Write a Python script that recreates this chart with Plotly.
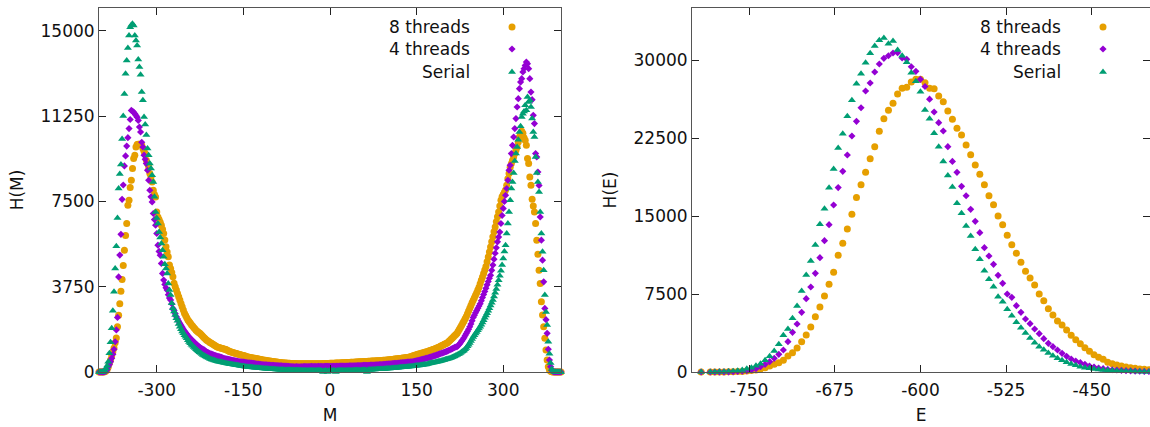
import plotly.graph_objects as go

# ---------------- data: left panel, histogram of magnetisation M ----------------
M_vals = list(range(-400, 401, 2))

hm_8threads = [
    0, 0, 0, 1, 5, 15, 40, 100, 220, 380,
    527, 700, 893, 1050, 1289, 1500, 1991, 2500, 3000, 3550,
    4069, 4684, 5356, 6000, 6528, 7331, 7551, 8108, 8429, 8942,
    9381, 9526, 9891, 9996, 10009, 10010, 9990, 9965, 9820, 9700,
    9600, 9307, 9160, 9013, 8723, 8574, 8354, 7990, 7800, 7696,
    7037, 6818, 6700, 6580, 6453, 6270, 6089, 5800, 5501, 5280,
    5062, 4700, 4552, 4370, 4184, 3900, 3745, 3600, 3455, 3310,
    3160, 3016, 2870, 2720, 2577, 2480, 2380, 2283, 2220, 2150,
    2080, 2020, 1960, 1900, 1840, 1790, 1745, 1710, 1670, 1620,
    1560, 1510, 1460, 1405, 1370, 1340, 1300, 1270, 1240, 1210,
    1180, 1140, 1111, 1090, 1075, 1060, 1045, 1030, 1015, 1000,
    985, 960, 930, 900, 885, 870, 855, 840, 825, 810,
    795, 780, 765, 752, 740, 728, 712, 690, 672, 660,
    650, 640, 630, 620, 610, 598, 588, 578, 568, 556,
    545, 535, 527, 519, 511, 503, 495, 487, 479, 471,
    464, 457, 450, 443, 436, 428, 420, 414, 410, 405,
    400, 396, 392, 388, 384, 380, 378, 376, 374, 372,
    370, 368, 367, 366, 365, 364, 363, 362, 362, 361,
    361, 360, 360, 360, 361, 361, 362, 362, 363, 364,
    365, 366, 367, 368, 369, 370, 371, 372, 374, 375,
    380, 382, 384, 386, 389, 391, 394, 396, 399, 401,
    404, 406, 409, 411, 414, 417, 419, 422, 425, 428,
    431, 434, 437, 440, 443, 446, 449, 452, 455, 458,
    461, 464, 467, 470, 473, 476, 479, 482, 485, 488,
    491, 494, 497, 500, 504, 508, 512, 516, 520, 525,
    530, 536, 542, 548, 554, 560, 566, 572, 578, 584,
    590, 597, 604, 611, 618, 625, 633, 641, 649, 658,
    667, 692, 717, 730, 745, 760, 775, 790, 805, 820,
    835, 850, 865, 880, 895, 915, 930, 945, 965, 985,
    1005, 1025, 1045, 1065, 1090, 1115, 1140, 1165, 1190, 1215,
    1240, 1260, 1300, 1350, 1400, 1450, 1500, 1550, 1600, 1650,
    1700, 1790, 1880, 1970, 2060, 2150, 2240, 2340, 2440, 2560,
    2680, 2800, 2920, 3040, 3150, 3260, 3370, 3480, 3600, 3730,
    3880, 4030, 4180, 4330, 4480, 4640, 4850, 5060, 5280, 5500,
    5720, 5940, 6160, 6379, 6600, 6820, 7037, 7300, 7551, 7700,
    7800, 7900, 8000, 8209, 8500, 8723, 9000, 9162, 9300, 9450,
    9600, 9750, 9891, 10110, 10330, 10476, 10580, 10500, 10300, 10185,
    9965, 9381, 9162, 8574, 8209, 7595, 7300, 7037, 6528, 5795,
    5180, 4478, 3894, 3086, 2502, 1989, 1479, 966, 527, 234,
    88, 30, 13, 4, 1, 0, 0, 0, 0, 0,
    0,
]

hm_4threads = [
    0, 0, 1, 3, 8, 15, 40, 100, 230, 330,
    450, 600, 780, 1000, 1330, 1850, 2400, 4180, 5140, 6050,
    7590, 8220, 9060, 9500, 9930, 10300, 10700, 11100, 11500, 11460,
    11420, 11355, 11280, 11200, 11060, 10770, 10550, 10100, 9890, 9530,
    9350, 9160, 8870, 8430, 7990, 7700, 7476, 6966, 6700, 6453,
    6089, 5575, 5300, 5136, 4772, 4333, 4039, 3850, 3700, 3600,
    3400, 3250, 3161, 3000, 2796, 2700, 2560, 2428, 2330, 2230,
    2138, 2050, 1970, 1880, 1800, 1740, 1670, 1600, 1540, 1479,
    1430, 1380, 1330, 1280, 1230, 1185, 1140, 1100, 1065, 1030,
    1000, 970, 930, 891, 865, 840, 815, 795, 775, 755,
    735, 720, 705, 690, 675, 660, 640, 620, 601, 590,
    580, 568, 557, 546, 535, 525, 515, 505, 495, 484,
    472, 462, 453, 446, 440, 433, 426, 419, 412, 406,
    400, 394, 388, 382, 377, 372, 362, 350, 345, 340,
    335, 330, 325, 320, 316, 312, 308, 304, 300, 296,
    292, 289, 286, 283, 280, 277, 274, 271, 268, 265,
    262, 259, 256, 252, 248, 243, 238, 236, 234, 232,
    230, 234, 226, 232, 228, 236, 230, 238, 233, 240,
    236, 242, 238, 240, 244, 239, 241, 245, 240, 243,
    246, 241, 244, 247, 242, 246, 248, 244, 249, 246,
    250, 247, 252, 249, 254, 251, 256, 253, 257, 255,
    258, 260, 259, 262, 261, 264, 265, 266, 268, 269,
    270, 272, 274, 276, 278, 280, 282, 284, 286, 288,
    290, 292, 294, 296, 298, 300, 303, 306, 309, 312,
    315, 318, 320, 322, 326, 330, 334, 338, 342, 346,
    350, 354, 358, 362, 366, 371, 376, 381, 386, 391,
    396, 401, 406, 411, 416, 421, 426, 431, 436, 441,
    446, 450, 453, 465, 478, 491, 504, 517, 530, 543,
    556, 569, 582, 596, 610, 625, 640, 655, 672, 689,
    706, 723, 740, 758, 776, 794, 812, 830, 850, 870,
    890, 905, 930, 955, 980, 1005, 1030, 1055, 1080, 1100,
    1113, 1160, 1220, 1290, 1360, 1430, 1510, 1600, 1690, 1780,
    1880, 1990, 2110, 2250, 2400, 2500, 2600, 2700, 2800, 2900,
    3000, 3130, 3270, 3410, 3540, 3680, 3830, 3980, 4120, 4250,
    4470, 4700, 4960, 5220, 5460, 5720, 5930, 6150, 6528, 6880,
    7190, 7500, 7770, 8064, 8429, 8868, 9087, 9600, 9965, 10330,
    10700, 11138, 11647, 12015, 12454, 12744, 12893, 13186, 13333, 13477,
    13622, 13550, 13333, 12893, 12305, 11972, 11282, 10918, 9600, 9451,
    8793, 8200, 6818, 5795, 4917, 3964, 2796, 2300, 1700, 1000,
    527, 234, 80, 25, 8, 2, 0, 0, 0, 0,
    0,
]

hm_serial = [
    0, 0, 0, 5, 13, 60, 150, 280, 452, 820,
    1303, 1918, 2691, 3525, 4552, 5531, 6774, 8064, 8700, 9118,
    10242, 11252, 12218, 13113, 13697, 14237, 14794, 15159, 15250, 15307,
    15233, 14794, 14575, 14355, 13740, 13403, 13069, 12305, 11941, 11208,
    10874, 10418, 9820, 9526, 9162, 8942, 8648, 8354, 7700, 7037,
    6774, 6528, 6159, 5913, 5650, 5356, 5062, 4741, 4550, 4333,
    3894, 3600, 3380, 3020, 2800, 2660, 2510, 2360, 2250, 2110,
    1990, 1880, 1780, 1700, 1620, 1550, 1480, 1400, 1320, 1260,
    1200, 1150, 1100, 1050, 1000, 960, 915, 870, 830, 790,
    750, 720, 690, 660, 635, 610, 585, 560, 540, 525,
    505, 490, 475, 460, 448, 436, 425, 415, 405, 395,
    385, 375, 365, 355, 345, 336, 327, 318, 310, 302,
    294, 286, 270, 262, 255, 248, 242, 236, 230, 224,
    218, 212, 207, 202, 197, 192, 188, 184, 178, 172,
    166, 160, 155, 150, 146, 142, 138, 134, 130, 127,
    124, 120, 116, 112, 108, 105, 102, 100, 98, 96,
    94, 92, 90, 88, 87, 86, 85, 84, 83, 82,
    80, 78, 76, 75, 74, 72, 70, 70, 69, 68,
    67, 66, 66, 65, 64, 64, 63, 63, 62, 62,
    62, 61, 61, 60, 5, 60, 60, 60, 2, 60,
    60, 60, 60, 61, 61, 4, 61, 62, 62, 63,
    63, 64, 65, 65, 66, 67, 68, 69, 70, 71,
    72, 73, 74, 75, 77, 78, 80, 82, 84, 86,
    88, 90, 3, 94, 97, 100, 103, 106, 110, 113,
    116, 119, 122, 125, 128, 131, 134, 137, 141, 145,
    149, 153, 157, 161, 165, 170, 175, 180, 185, 190,
    195, 200, 205, 210, 215, 220, 225, 230, 235, 240,
    245, 250, 255, 263, 270, 277, 284, 291, 298, 304,
    310, 318, 326, 335, 345, 360, 372, 385, 398, 410,
    420, 430, 440, 452, 462, 472, 487, 502, 517, 530,
    545, 560, 575, 592, 608, 625, 645, 668, 695, 720,
    746, 775, 805, 840, 875, 910, 950, 1000, 1060, 1130,
    1200, 1280, 1360, 1450, 1540, 1620, 1690, 1760, 1840, 1910,
    1990, 2080, 2180, 2280, 2380, 2480, 2577, 2690, 2800, 2920,
    3040, 3160, 3320, 3480, 3650, 3830, 4030, 4230, 4450, 4700,
    4990, 5300, 5575, 6089, 6528, 7037, 7551, 8064, 8354, 8749,
    9276, 9600, 9891, 10213, 10549, 10799, 11208, 11355, 11450, 11721,
    11501, 12085, 11866, 11950, 11647, 11138, 10549, 10330, 9450, 8749,
    8354, 7915, 7037, 6089, 5281, 4478, 3380, 2640, 2063, 1330,
    800, 400, 130, 40, 12, 4, 1, 0, 0, 0,
    0,
]

# ---------------- data: right panel, histogram of energy E ----------------
E_vals = [-792] + list(range(-784, -399, 4))

he_8threads = [
    1, 2, 3, 5, 10, 15, 25, 40, 60, 95,
    140, 200, 288, 413, 577, 740, 894, 1125, 1538, 1856,
    2308, 2913, 3558, 4327, 5317, 6250, 7307, 8433, 9586, 11221,
    12375, 13750, 15163, 16780, 18000, 19200, 20509, 21663, 23143, 24355,
    25163, 25835, 26730, 27278, 27374, 27884, 28143, 28143, 27816, 27278,
    27240, 26537, 25990, 25095, 24297, 23432, 22788, 21826, 20880, 19915,
    19020, 17995, 16951, 16086, 15000, 14163, 13144, 12240, 11413, 10548,
    9682, 9038, 8365, 7500, 6855, 6086, 5481, 4904, 4519, 4038,
    3529, 3106, 2721, 2336, 1990, 1663, 1413, 1221, 933, 798,
    673, 577, 481, 413, 356, 288, 260, 220,
]

he_4threads = [
    1, 2, 3, 6, 10, 17, 28, 45, 75, 120,
    192, 317, 510, 740, 990, 1317, 1702, 2115, 2913, 3817,
    4615, 5740, 7048, 8173, 9490, 10990, 12625, 14163, 16057, 17735,
    19297, 20865, 22691, 24105, 25412, 27018, 27787, 28845, 29614, 30162,
    30412, 30672, 30701, 30191, 30066, 29355, 28912, 28143, 27450, 26235,
    25000, 23971, 23172, 21663, 20250, 19201, 17850, 16951, 15644, 14490,
    13394, 11952, 11153, 10355, 9298, 8529, 7500, 7182, 6375, 5740,
    5096, 4644, 4134, 3683, 3202, 2759, 2433, 2115, 1798, 1510,
    1250, 1058, 894, 740, 577, 481, 385, 317, 250, 220,
    190, 160, 130, 110, 90, 70, 60, 50,
]

he_serial = [
    1, 5, 9, 16, 28, 45, 75, 120, 192, 317,
    417, 606, 801, 1122, 1506, 2019, 2660, 3526, 4134, 5160,
    6346, 7788, 9327, 10673, 12211, 14201, 15702, 17721, 19518, 21538,
    22913, 24585, 26124, 27720, 28682, 29739, 30643, 31345, 31893, 32114,
    31567, 31826, 30960, 30412, 29778, 28778, 27951, 26951, 25191, 24340,
    22951, 21663, 20250, 18900, 17790, 16220, 15259, 14038, 13076, 11798,
    10836, 9740, 8913, 8202, 7240, 6759, 6029, 5413, 4779, 4259,
    3750, 3269, 2817, 2433, 2144, 1827, 1567, 1317, 1125, 933,
    769, 644, 510, 420, 350, 290, 240, 200, 170, 140,
    115, 95, 80, 65, 55, 45, 35, 30,
]

series_names = ["8 threads", "4 threads", "Serial"]
series_colors = ["#E69F00", "#9400D3", "#009E73"]

m_ticks = [-300, -150, 0, 150, 300]
hm_ticks = [0, 3750, 7500, 11250, 15000]
e_ticks = [-750, -675, -600, -525, -450]
he_ticks = [0, 7500, 15000, 22500, 30000]

for lst in (hm_8threads, hm_4threads, hm_serial):
    assert len(lst) == len(M_vals), len(lst)
for lst in (he_8threads, he_4threads, he_serial):
    assert len(lst) == len(E_vals), len(lst)

# ---------------- figure ----------------
W, H = 1150, 427
FONT = "DejaVu Sans"
FS = 17
symbols = ["circle", "diamond", "triangle-up"]
sizes = [7, 5.5, 7]

fig = go.Figure()

left_data = [hm_8threads, hm_4threads, hm_serial]
right_data = [he_8threads, he_4threads, he_serial]
for i in range(3):
    fig.add_trace(go.Scatter(
        x=M_vals, y=left_data[i], mode="markers", name=series_names[i],
        marker=dict(symbol=symbols[i], size=sizes[i], color=series_colors[i], line=dict(width=0)),
        cliponaxis=False, showlegend=False, xaxis="x", yaxis="y"))
for i in range(3):
    fig.add_trace(go.Scatter(
        x=E_vals, y=right_data[i], mode="markers", name=series_names[i],
        marker=dict(symbol=symbols[i], size=sizes[i], color=series_colors[i], line=dict(width=0)),
        cliponaxis=False, showlegend=False, xaxis="x2", yaxis="y2"))

def px(xp):
    return xp / W

def py(yp):
    return 1 - yp / H

ydom = [py(372), py(8)]
axis_common = dict(
    showline=True, linecolor="#555555", linewidth=1, mirror="ticks",
    ticks="inside", ticklen=7, tickwidth=1, tickcolor="#222222",
    showgrid=False, zeroline=False, automargin=False,
    tickfont=dict(family=FONT, size=FS, color="#111111"),
)

fig.update_layout(
    width=W, height=H,
    margin=dict(l=0, r=0, t=0, b=0, autoexpand=False),
    paper_bgcolor="white", plot_bgcolor="white",
    font=dict(family=FONT, size=FS, color="#111111"),
    xaxis=dict(domain=[px(99), px(561)], range=[-400, 400],
               tickvals=m_ticks, ticktext=[str(v) for v in m_ticks],
               ticklabelstandoff=3,
               title=dict(text="M", font=dict(family=FONT, size=FS), standoff=9),
               anchor="y", **axis_common),
    yaxis=dict(domain=ydom, range=[0, 16000],
               tickvals=hm_ticks, ticktext=[str(v) for v in hm_ticks],
               title=dict(text="H(M)", font=dict(family=FONT, size=FS), standoff=12),
               anchor="x", **axis_common),
    xaxis2=dict(domain=[px(692), 1.0], range=[-800, -399],
                tickvals=e_ticks, ticktext=[str(v) for v in e_ticks],
                ticklabelstandoff=3,
                title=dict(text="E", font=dict(family=FONT, size=FS), standoff=9),
                anchor="y2", **axis_common),
    yaxis2=dict(domain=ydom, range=[0, 35000],
                tickvals=he_ticks, ticktext=[str(v) for v in he_ticks],
                title=dict(text="H(E)", font=dict(family=FONT, size=FS), standoff=12),
                anchor="x2", **axis_common),
)

# key (gnuplot style: right-aligned text, sample to its right)
key_rows_y = [27, 49, 72]
for text_right, sample_x in ((472, 512), (1063, 1103)):
    for i in range(3):
        fig.add_annotation(
            x=px(text_right), y=py(key_rows_y[i]), xref="paper", yref="paper",
            text=series_names[i], showarrow=False, xanchor="right", yanchor="middle",
            font=dict(family=FONT, size=FS, color="#111111"))
    ax, ay = px(sample_x), py(key_rows_y[0])
    fig.add_shape(type="circle", xref="paper", yref="paper", xsizemode="pixel", ysizemode="pixel",
                  xanchor=ax, yanchor=ay, x0=-3.5, x1=3.5, y0=-3.5, y1=3.5,
                  fillcolor=series_colors[0], line=dict(width=0))
    ax, ay = px(sample_x), py(key_rows_y[1])
    fig.add_shape(type="path", xref="paper", yref="paper", xsizemode="pixel", ysizemode="pixel",
                  xanchor=ax, yanchor=ay, path="M-3.6,0 L0,3.6 L3.6,0 L0,-3.6 Z",
                  fillcolor=series_colors[1], line=dict(width=0))
    ax, ay = px(sample_x), py(key_rows_y[2])
    fig.add_shape(type="path", xref="paper", yref="paper", xsizemode="pixel", ysizemode="pixel",
                  xanchor=ax, yanchor=ay, path="M-4,-1.8 L4,-1.8 L0,3.5 Z",
                  fillcolor=series_colors[2], line=dict(width=0))

fig.write_html("out.html")
